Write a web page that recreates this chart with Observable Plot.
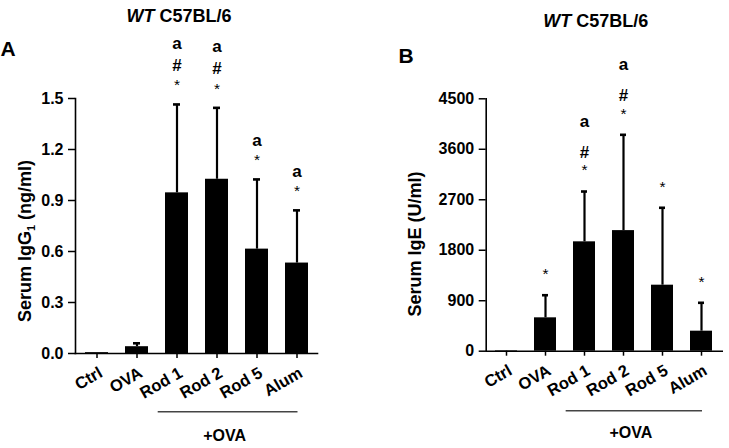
<!DOCTYPE html>
<html><head><meta charset="utf-8">
<script src="https://cdn.jsdelivr.net/npm/d3@7"></script>
<script src="https://cdn.jsdelivr.net/npm/@observablehq/plot@0.6"></script>
<style>
body{margin:0;background:#fff;}
#wrap{position:relative;width:729px;height:448px;overflow:hidden;background:#fff;}
.panel{position:absolute;top:0;}
</style></head><body>
<div id="wrap"><div class="panel" id="pA" style="left:0"></div><div class="panel" id="pB" style="left:364px"></div></div>
<script>
const groups = ["Ctrl", "OVA", "Rod 1", "Rod 2", "Rod 5", "Alum"];
const igg1Mean = [0.005, 0.04, 0.945, 1.025, 0.614, 0.532];
const igg1SD   = [0, 0.02, 0.52, 0.42, 0.41, 0.31];
const igg1Sig  = ["", "", "a#*", "a#*", "a*", "a*"];
const igg1Ticks = [0, 0.3, 0.6, 0.9, 1.2, 1.5];
const igeMean = [10, 595, 1950, 2150, 1177, 357];
const igeSD   = [0, 403, 897, 1708, 1380, 506];
const igeSig  = ["", "*", "a#*", "a#*", "*", "*"];
const igeTicks = [0, 900, 1800, 2700, 3600, 4500];
const FONT = "'Liberation Sans', Arial, Helvetica, sans-serif";

function makePanel(cfg) {
  const rows = groups.map((g, i) => ({g, mean: cfg.mean[i], sd: cfg.sd[i], top: cfg.mean[i] + cfg.sd[i]}));
  const ann = [];
  rows.forEach((r, i) => {
    const s = cfg.sig[i].split("").reverse();
    s.forEach((ch, lev) => ann.push({g: r.g, top: r.top, ch, lev}));
  });
  const levDy = cfg.levDy;
  const starMarks = [0, 1, 2].map(lev => Plot.text(ann.filter(d => d.lev === lev && d.ch === "*"), {
    x: "g", y: "top", text: "ch", dy: levDy[lev], fontSize: 15.5, fontWeight: "normal", fontFamily: FONT
  }));
  const annNoStar = [0, 1, 2].map(lev => Plot.text(ann.filter(d => d.lev === lev && d.ch !== "*"), {
    x: "g", y: "top", text: "ch", dy: levDy[lev], fontSize: 17, fontWeight: "bold", fontFamily: FONT
  }));
  const plot = Plot.plot({
    width: cfg.width, height: 448,
    marginLeft: cfg.ml, marginRight: cfg.mr, marginTop: cfg.mt, marginBottom: cfg.mb,
    style: `font: bold 16px ${FONT}; background: white; overflow: visible;`,
    x: {domain: groups, paddingInner: 0.43, paddingOuter: 0.215, label: null},
    y: {domain: [0, cfg.ticks[cfg.ticks.length - 1]], label: null},
    marks: [
      Plot.barY(rows, {x: "g", y: "mean", fill: "black"}),
      Plot.ruleX(rows.filter(d => d.sd > 0), {x: "g", y1: "mean", y2: "top", stroke: "black", strokeWidth: 2.2}),
      Plot.tickY(rows.filter(d => d.sd > 0), {x: "g", y: "top", stroke: "black", strokeWidth: 2.6, insetLeft: cfg.capInset, insetRight: cfg.capInset}),
      ...starMarks, ...annNoStar,
      Plot.axisY({ticks: cfg.ticks, tickFormat: cfg.fmt, tickSize: 7, tickPadding: 5, fontSize: 16, fontWeight: "bold", strokeWidth: 1.5}),
      Plot.axisX({tickRotate: -30, tickSize: 5, tickPadding: 10, fontSize: 16.5, fontWeight: "bold", strokeWidth: 1.5}),
      Plot.frame({anchor: "left", strokeWidth: 1.6}),
      Plot.frame({anchor: "bottom", strokeWidth: 1.6})
    ]
  });
  const svg = d3.select(plot);
  // nudge rotated category labels slightly right/down, as in the reference
  svg.selectAll("g[aria-label='x-axis tick label']").attr("transform", function() {
    const t = d3.select(this).attr("transform") || "";
    return `translate(4,3) ${t}`;
  });
  const xs = plot.scale("x");
  const step = xs.step !== undefined ? xs.step : (xs.bandwidth / (1 - 0.43));
  const cx = g => xs.apply(g) + xs.bandwidth / 2;
  const x1 = cx("Rod 1") - 0.47 * step, x2 = cx("Alum") + 1;
  const gL = svg.append("g").attr("font-family", FONT).attr("font-weight", "bold").attr("fill", "black");
  gL.append("line").attr("x1", x1).attr("x2", x2).attr("y1", cfg.lineY).attr("y2", cfg.lineY)
    .attr("stroke", "#444").attr("stroke-width", 1.4);
  gL.append("text").attr("x", (x1 + x2) / 2 - 3).attr("y", cfg.lineY + cfg.ovaDy).attr("text-anchor", "middle")
    .attr("font-size", 16).text("+OVA");
  const t = gL.append("text").attr("x", cfg.titleX).attr("y", cfg.titleY).attr("text-anchor", "middle").attr("font-size", 18);
  t.append("tspan").attr("font-style", "italic").text("WT");
  t.append("tspan").text(" C57BL/6");
  gL.append("text").attr("x", cfg.letterX).attr("y", cfg.letterY).attr("font-size", 21).text(cfg.letter);
  const yl = gL.append("text").attr("transform", `translate(${cfg.ylabX},${cfg.ylabY}) rotate(-90)`)
    .attr("text-anchor", "middle").attr("font-size", 18);
  cfg.ylab.forEach(p => {
    const ts = yl.append("tspan").text(p.t);
    if (p.sub) ts.attr("font-size", 11).attr("dy", 4);
    if (p.after) ts.attr("dy", -4);
  });
  document.getElementById(cfg.el).appendChild(plot);
}

makePanel({el: "pA", width: 364, ml: 75, mr: 47, mt: 98, mb: 95, capInset: 8, levDy: [-19, -39, -61],
  mean: igg1Mean, sd: igg1SD, sig: igg1Sig, ticks: igg1Ticks, fmt: d => d.toFixed(1),
  lineY: 411.7, ovaDy: 29, titleX: 179, titleY: 22, letter: "A", letterX: 8, letterY: 56,
  ylabX: 31, ylabY: 241,
  ylab: [{t: "Serum IgG"}, {t: "1", sub: true}, {t: " (ng/ml)", after: true}]});
makePanel({el: "pB", width: 365, ml: 121.7, mr: 7.3, mt: 98.3, mb: 97.3, capInset: 8, levDy: [-21, -39, -70],
  mean: igeMean, sd: igeSD, sig: igeSig, ticks: igeTicks, fmt: d => String(d),
  lineY: 410.7, ovaDy: 27.5, titleX: 231.7, titleY: 27, letter: "B", letterX: 42, letterY: 63,
  ylabX: 57, ylabY: 244,
  ylab: [{t: "Serum IgE (U/ml)"}]});
</script></body></html>
